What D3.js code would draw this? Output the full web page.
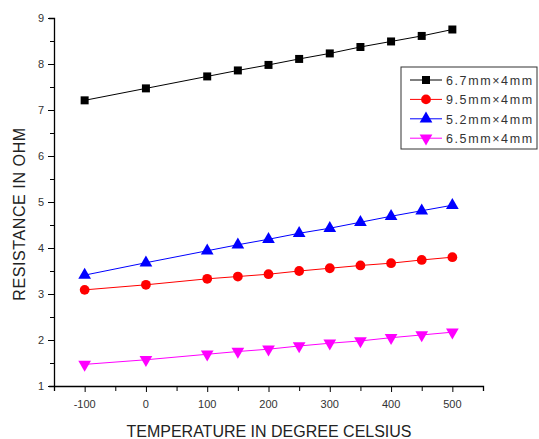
<!DOCTYPE html>
<html>
<head>
<meta charset="utf-8">
<script src="https://cdn.jsdelivr.net/npm/d3@7"></script>
<style>
body { margin: 0; background: #fff; }
text { font-family: "Liberation Sans", Arial, sans-serif; }
</style>
</head>
<body>
<svg id="main" width="539" height="439"></svg>
<script>
var temps = [-100, 0, 100, 150, 200, 250, 300, 350, 400, 450, 500];
var r67 = [7.21, 7.47, 7.73, 7.86, 7.98, 8.11, 8.23, 8.37, 8.49, 8.61, 8.75];
var r95 = [3.09, 3.20, 3.33, 3.38, 3.43, 3.50, 3.56, 3.62, 3.67, 3.74, 3.80];
var r52 = [3.41, 3.68, 3.94, 4.07, 4.19, 4.32, 4.43, 4.56, 4.69, 4.81, 4.93];
var r65 = [1.47, 1.57, 1.69, 1.75, 1.80, 1.87, 1.93, 1.98, 2.05, 2.11, 2.17];
var names = ["6.7mm\u00d74mm", "9.5mm\u00d74mm", "5.2mm\u00d74mm", "6.5mm\u00d74mm"];
var xTicks = [-100, 0, 100, 200, 300, 400, 500];
var yTicks = [1, 2, 3, 4, 5, 6, 7, 8, 9];

window.onload = function() {
var svg = d3.select("#main");
var left = 54, right = 483, top = 18, bottom = 386;

var x = d3.scaleLinear().domain([-150, 550]).range([left, right]);
var y = d3.scaleLinear().domain([1, 9]).range([bottom, top]);

var series = [
	{name: names[0], vals: r67, color: "#000000", sym: d3.symbolSquare, size: 64, rot: 0},
	{name: names[1], vals: r95, color: "#ff0000", sym: d3.symbolCircle, size: 75, rot: 0},
	{name: names[2], vals: r52, color: "#0000ff", sym: d3.symbolTriangle, size: 70, rot: 0},
	{name: names[3], vals: r65, color: "#ff00ff", sym: d3.symbolTriangle, size: 70, rot: 180}
];

// axes
var xa = svg.append("g").attr("transform", "translate(0," + bottom + ")");
xa.call(d3.axisBottom(x).tickValues(d3.range(-150, 551, 50)).tickSize(5).tickFormat(""));
xa.selectAll(".tick line").attr("y2", function(d) { return d % 100 === 0 ? 6 : 5; });
xa.selectAll("text").remove();
xTicks.forEach(function(t) {
	svg.append("text").attr("x", x(t)).attr("y", bottom + 22)
		.attr("text-anchor", "middle").attr("font-size", 11).attr("fill", "#333")
		.text(t);
});

var ya = svg.append("g").attr("transform", "translate(" + left + ",0)");
ya.call(d3.axisLeft(y).tickValues(d3.range(1, 9.01, 0.5)).tickSize(5).tickFormat(""));
ya.selectAll(".tick line").attr("x2", function(d) { return d % 1 === 0 ? -6 : -4; });
yTicks.forEach(function(t) {
	svg.append("text").attr("x", left - 10).attr("y", y(t) + 4)
		.attr("text-anchor", "end").attr("font-size", 11).attr("fill", "#333")
		.text(t);
});
svg.selectAll(".domain").attr("stroke", "#000").attr("stroke-width", 1.3);
svg.selectAll(".tick line").attr("stroke", "#000");

svg.append("text").attr("x", 269).attr("y", 437).attr("text-anchor", "middle")
	.attr("font-size", 16).attr("fill", "#222").text("TEMPERATURE IN DEGREE CELSIUS");
svg.append("text").attr("transform", "translate(25," + 214 + ") rotate(-90)")
	.attr("text-anchor", "middle").attr("font-size", 16).attr("letter-spacing", 0.6)
	.attr("fill", "#222").text("RESISTANCE IN OHM");

// lines + markers
var line = d3.line().x(function(d) { return x(d[0]); }).y(function(d) { return y(d[1]); });
series.forEach(function(s) {
	var pts = temps.map(function(t, i) { return [t, s.vals[i]]; });
	svg.append("path").datum(pts).attr("d", line)
		.attr("fill", "none").attr("stroke", s.color).attr("stroke-width", 1);
	svg.selectAll(null).data(pts).enter().append("path")
		.attr("d", d3.symbol().type(s.sym).size(s.size))
		.attr("transform", function(d) {
			return "translate(" + x(d[0]) + "," + y(d[1]) + ") rotate(" + s.rot + ")";
		})
		.attr("fill", s.color);
});

// legend
var lg = svg.append("g");
lg.append("rect").attr("x", 401).attr("y", 67).attr("width", 136).attr("height", 82)
	.attr("fill", "#fff").attr("stroke", "#333").attr("stroke-width", 1);
series.forEach(function(s, i) {
	var ly = 80 + i * 19.4;
	lg.append("line").attr("x1", 410).attr("x2", 442).attr("y1", ly).attr("y2", ly)
		.attr("stroke", s.color).attr("stroke-width", 1);
	lg.append("path").attr("d", d3.symbol().type(s.sym).size(s.size))
		.attr("transform", "translate(426," + ly + ") rotate(" + s.rot + ")")
		.attr("fill", s.color);
	lg.append("text").attr("x", 446).attr("y", ly + 5).attr("font-size", 12.5)
		.attr("fill", "#333").attr("letter-spacing", 1.6).text(s.name);
});
};
</script>
</body>
</html>
